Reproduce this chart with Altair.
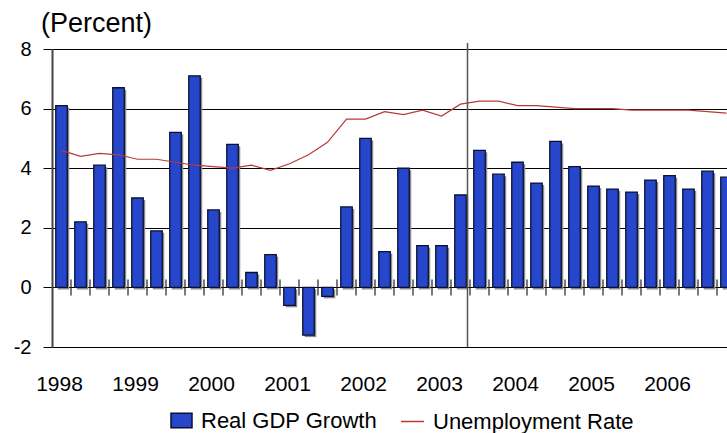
import altair as alt
import pandas as pd

years = list(range(1998, 2007))
quarters = [f"{y}Q{q}" for y in years for q in (1, 2, 3, 4)]

gdp_growth = [6.1, 2.2, 4.1, 6.7, 3.0, 1.9, 5.2, 7.1,
              2.6, 4.8, 0.5, 1.1, -0.6, -1.6, -0.3, 2.7,
              5.0, 1.2, 4.0, 1.4, 1.4, 3.1, 4.6, 3.8,
              4.2, 3.5, 4.9, 4.05, 3.4, 3.3, 3.2, 3.6,
              3.75, 3.3, 3.9, 3.7]
unemployment = [4.6, 4.4, 4.5, 4.45, 4.3, 4.3, 4.2, 4.1,
                4.05, 4.0, 4.1, 3.93, 4.15, 4.45, 4.87, 5.65,
                5.65, 5.9, 5.8, 5.95, 5.75, 6.15, 6.25, 6.25,
                6.1, 6.1, 6.05, 6.0, 6.0, 6.0, 5.95, 5.95,
                5.95, 5.95, 5.9, 5.85]
series_names = ["Real GDP Growth", "Unemployment Rate"]
last_actual = ["2003Q2"]
y_ticks = [-2, 0, 2, 4, 6, 8]
unit_label = ["(Percent)"]

df = pd.DataFrame({
    "quarter": quarters,
    "gdp": gdp_growth,
    "unemp": unemployment,
    "s1": series_names[0],
    "s2": series_names[1],
})

FONT = "Liberation Sans"
BAR = "#2647CC"
LINE = "#b83a36"

x_axis = alt.Axis(
    title=None,
    labelExpr="substring(datum.value,4)=='Q1' ? substring(datum.value,0,4) : ''",
    labelAngle=0, labelFontSize=21, labelFont=FONT, labelColor="black",
    labelPadding=26, ticks=False, tickSize=0, domain=False, grid=False,
    labelOverlap=False, labelOffset=-2,
)
x_scale = alt.Scale(domain=quarters, range=[0, 684],
                    paddingInner=0.395, paddingOuter=0.1975)
y_axis = alt.Axis(
    title=None, values=y_ticks, grid=True, gridColor="black", gridWidth=1,
    gridOpacity=1, tickColor="black", tickSize=9, tickWidth=1,
    domainColor="#444", domainWidth=2, labelFontSize=20, labelFont=FONT,
    labelColor="black", labelPadding=12, labelExpr="'' + datum.value",
)
y_scale = alt.Scale(domain=[-2, 8], nice=False, zero=False)


def X():
    return alt.X("quarter:O", sort=quarters, scale=x_scale, axis=x_axis)


base = alt.Chart(df)

shadow = base.mark_bar(color="#8a8a8a", xOffset=2, yOffset=2, clip=True).encode(
    x=X(), y=alt.Y("gdp:Q", scale=y_scale, axis=y_axis)
)

bars = base.mark_bar(stroke="#0a1030", strokeWidth=1.3, clip=True).encode(
    x=X(),
    y=alt.Y("gdp:Q", scale=y_scale, axis=y_axis),
    fill=alt.Fill("s1:N", scale=alt.Scale(domain=[series_names[0]], range=[BAR]),
                  legend=alt.Legend(
                      title=None, orient="none", legendX=118, legendY=360,
                      symbolType="M-1,-0.7H1V0.7H-1Z", symbolSize=441,
                      symbolStrokeColor="#0a1030", symbolStrokeWidth=1.5,
                      symbolOpacity=1, labelFontSize=22, labelFont=FONT,
                      labelColor="black", labelOffset=8, padding=0,
                      labelLimit=400)),
)

ticks = base.mark_rule(xOffset=9.5, yOffset=-8, y2Offset=8, color="#222",
                       strokeWidth=1.2, clip=True).encode(
    x=X(), y=alt.datum(0), y2=alt.datum(0)
)

line = base.mark_line(strokeWidth=1.2, clip=True).encode(
    x=X(),
    y=alt.Y("unemp:Q", scale=y_scale, axis=y_axis),
    stroke=alt.Stroke("s2:N", scale=alt.Scale(domain=[series_names[1]], range=[LINE]),
                      legend=alt.Legend(
                          title=None, orient="none", legendX=348, legendY=360,
                          symbolType="stroke", symbolSize=529,
                          symbolStrokeWidth=1.5, labelFontSize=22,
                          labelFont=FONT, labelColor="black", labelOffset=8,
                          padding=0, labelLimit=400)),
)

sep = alt.Chart(pd.DataFrame({"quarter": last_actual})).mark_rule(
    xOffset=7, yOffset=-6, color="#555", strokeWidth=1.5
).encode(x=X(), y=alt.datum(8), y2=alt.datum(-2))

unit = alt.Chart(pd.DataFrame({"t": unit_label})).mark_text(
    align="left", baseline="alphabetic", fontSize=27, font=FONT, color="black"
).encode(text="t:N", x=alt.value(-11), y=alt.value(-17))

chart = alt.layer(shadow, bars, ticks, line, sep, unit).properties(
    width=675, height=298,
    padding={"left": 52, "top": 49, "right": 0, "bottom": 86},
    autosize=alt.AutoSizeParams(type="none"),
).configure_view(stroke=None)

chart.save("out.html", embed_options={"renderer": "svg", "actions": False})
